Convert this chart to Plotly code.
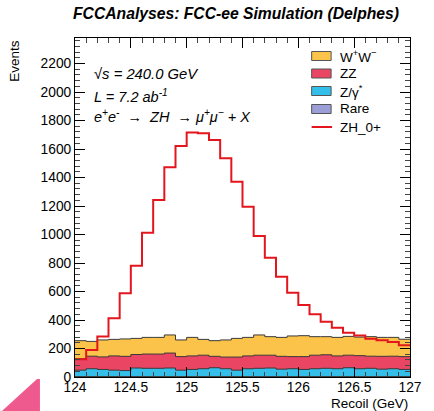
import plotly.graph_objects as go
import numpy as np

# ---- data (30 bins of 0.1 GeV from 124 to 127) ----
bin_edges = [round(124.0 + 0.1 * i, 1) for i in range(31)]

rare = [3, 3, 3, 3, 3, 3, 3, 3, 3, 3, 3, 3, 3, 3, 3,
        3, 3, 3, 3, 3, 3, 3, 3, 3, 3, 3, 3, 3, 3, 3]
zgamma = [45, 55, 50, 45, 42, 60, 58, 58, 60, 45, 50, 55, 62, 55, 45,
          55, 58, 60, 52, 55, 50, 55, 58, 55, 62, 55, 58, 52, 55, 50]
zz = [80, 88, 88, 100, 100, 95, 100, 100, 105, 95, 95, 95, 80, 82, 92,
      90, 92, 90, 90, 85, 90, 95, 95, 90, 88, 92, 85, 90, 88, 90]
ww = [127, 104, 119, 116, 122, 113, 117, 117, 127, 117, 130, 111, 110, 120, 131,
      130, 142, 130, 133, 145, 147, 130, 127, 130, 132, 130, 137, 133, 132, 122]
zh = [125, 189, 285, 412, 587, 781, 1013, 1242, 1472, 1621, 1715, 1710, 1663, 1535, 1371,
      1195, 990, 837, 704, 592, 505, 440, 388, 345, 310, 292, 268, 258, 245, 222]

labels = ["W<sup>+</sup>W<sup>\u2212</sup>", "ZZ", "Z/\u03b3<sup>*</sup>", "Rare", "ZH_0+"]
colors = {"ww": "#fbc34a", "zz": "#ea4563", "zg": "#33bfe9", "rare": "#9c9ed8", "zh": "#e3161e"}

# ---- geometry (pixels) ----
W, H = 434, 411
PX0, PX1, PY0, PY1 = 75, 419, 38, 377


def px(x):
    return (x - PX0) / (PX1 - PX0)


def py(y):
    return (PY1 - y) / (PY1 - PY0)


def step(vals):
    v = list(vals)
    return v + [v[-1]]


c_rare = np.array(rare)
c_zg = c_rare + np.array(zgamma)
c_zz = c_zg + np.array(zz)
c_ww = c_zz + np.array(ww)

fig = go.Figure()
for cum, col in [(c_ww, colors["ww"]), (c_zz, colors["zz"]), (c_zg, colors["zg"]), (c_rare, colors["rare"])]:
    fig.add_trace(go.Scatter(x=bin_edges, y=step(cum), mode="lines", line_shape="hv",
                             fill="tozeroy", fillcolor=col,
                             line=dict(color="#3a3a3a", width=1), showlegend=False,
                             hoverinfo="skip"))
fig.add_trace(go.Scatter(x=bin_edges, y=step(zh), mode="lines", line_shape="hv",
                         line=dict(color=colors["zh"], width=2), showlegend=False))

font = "Liberation Sans, Arial, Helvetica, sans-serif"

axis_common = dict(showline=True, linecolor="black", linewidth=1, mirror="allticks",
                   ticks="inside", tickcolor="black", showgrid=False, zeroline=False,
                   tickfont=dict(family=font, size=13.8, color="black"))

fig.update_xaxes(range=[124, 127], tick0=124, dtick=0.5, ticklen=10,
                 minor=dict(dtick=0.1, ticklen=5, ticks="inside", tickcolor="#444"),
                 ticklabelstandoff=-3,
                 **axis_common)
fig.update_yaxes(range=[0, 2379], tick0=0, dtick=200, ticklen=10,
                 minor=dict(dtick=40, ticklen=5, ticks="inside", tickcolor="#444"),
                 **axis_common)

NB = "\u00a0"
annotations = [
    dict(text="<b><i>FCCAnalyses: FCC-ee Simulation (Delphes)</i></b>", x=px(240), y=py(14),
         xanchor="center", yanchor="middle", font=dict(size=15.7)),
    dict(text="Events", x=px(12), y=py(38), xanchor="center", yanchor="top", textangle=-90,
         font=dict(size=13.5)),
    dict(text="Recoil (GeV)", x=px(419), y=py(403), xanchor="right", yanchor="middle",
         font=dict(size=13.5)),
    dict(text="<i>\u221as = 240.0 GeV</i>", x=px(92), y=py(74), xanchor="left", yanchor="middle",
         font=dict(size=14.8)),
    dict(text="<i>L = 7.2 ab<sup>-1</sup></i>", x=px(92), y=py(96), xanchor="left", yanchor="middle",
         font=dict(size=14.5)),
    dict(text=f"<i>e<sup>+</sup>e<sup>-</sup>{NB} \u2192 {NB}ZH{NB} \u2192 \u03bc<sup>+</sup>\u03bc<sup>\u2212</sup> + X</i>",
         x=px(92), y=py(116), xanchor="left", yanchor="middle", font=dict(size=14.5)),
]

shapes = []
leg_y = [56, 73.5, 91, 109, 127]
leg_cols = [colors["ww"], colors["zz"], colors["zg"], colors["rare"]]
for i, lab in enumerate(labels):
    yc = leg_y[i]
    if i < 4:
        shapes.append(dict(type="rect", xref="paper", yref="paper",
                           x0=px(318), x1=px(338), y0=py(yc - 4.5), y1=py(yc + 4.5),
                           fillcolor=leg_cols[i], line=dict(color="#555", width=1)))
    else:
        shapes.append(dict(type="line", xref="paper", yref="paper",
                           x0=px(318), x1=px(339), y0=py(yc), y1=py(yc),
                           line=dict(color=colors["zh"], width=2)))
    annotations.append(dict(text=lab, x=px(345), y=py(yc), xanchor="left", yanchor="middle",
                            font=dict(size=13.5)))

# pink corner decoration
shapes.append(dict(type="path", xref="paper", yref="paper",
                   path=f"M {px(0)},{py(411)} L {px(36)},{py(379)} L {px(39)},{py(379)} L {px(39)},{py(411)} Z",
                   fillcolor="#ee5a8e", line=dict(width=0)))

for a in annotations:
    a.update(xref="paper", yref="paper", showarrow=False)
    a.setdefault("font", {})
    a["font"].setdefault("family", font)
    a["font"].setdefault("color", "black")

fig.update_layout(width=W, height=H, margin=dict(l=PX0, r=W - PX1, t=PY0, b=H - PY1),
                  paper_bgcolor="white", plot_bgcolor="white",
                  annotations=annotations, shapes=shapes,
                  font=dict(family=font, color="black"), showlegend=False)

fig.write_html("out.html", config={"displayModeBar": False},
               post_script="document.body.style.margin='0';document.body.style.overflow='hidden';")
